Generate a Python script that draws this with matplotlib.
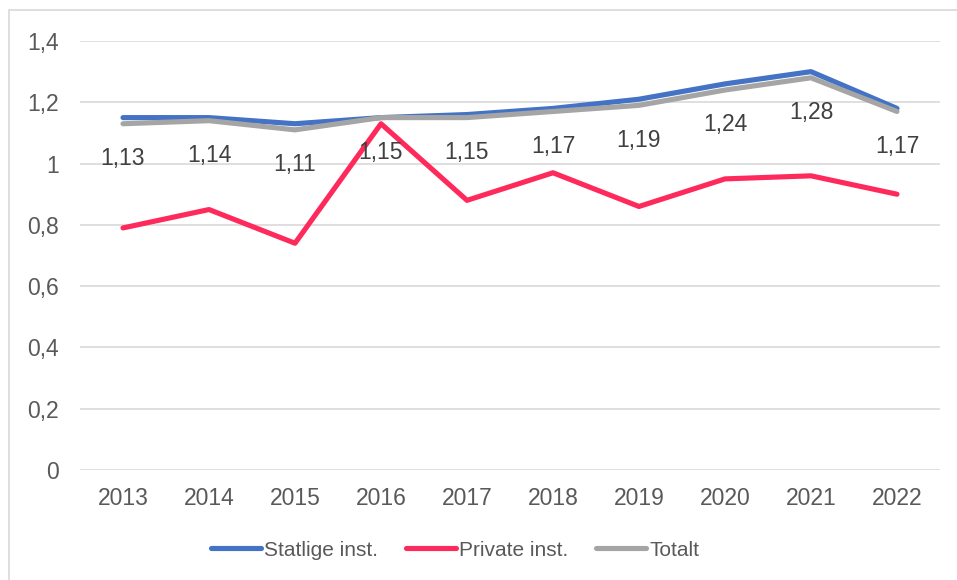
import numpy as np
import matplotlib
matplotlib.use("Agg")
from matplotlib import pyplot as plt
from matplotlib.patches import Rectangle

years = ['2013', '2014', '2015', '2016', '2017', '2018', '2019', '2020', '2021', '2022']
statlige = [1.15, 1.15, 1.13, 1.15, 1.16, 1.18, 1.21, 1.26, 1.30, 1.18]
private = [0.79, 0.85, 0.74, 1.13, 0.88, 0.97, 0.86, 0.95, 0.96, 0.90]
totalt = [1.13, 1.14, 1.11, 1.15, 1.15, 1.17, 1.19, 1.24, 1.28, 1.17]
yticks = [0, 0.2, 0.4, 0.6, 0.8, 1.0, 1.2, 1.4]
ytick_labels = ['0', '0,2', '0,4', '0,6', '0,8', '1', '1,2', '1,4']

plt.rcParams['font.family'] = ['Liberation Sans', 'DejaVu Sans']

fig = plt.figure(figsize=(9.57, 5.8), dpi=100)
ax = fig.add_axes([80 / 957, 1 - 470 / 580, 860 / 957, 429 / 580])

# chart border
fig.patches.append(Rectangle((9 / 957, -0.1), 1.1, 1 - 10 / 580 + 0.1, transform=fig.transFigure,
                             fill=False, edgecolor='#d9d9d9', linewidth=1.2))

x = np.arange(len(years))
ax.plot(x, statlige, color='#4472c4', lw=3.7, solid_capstyle='round', solid_joinstyle='round',
        label='Statlige inst.', zorder=3)
ax.plot(x, private, color='#ff2a5c', lw=3.7, solid_capstyle='round', solid_joinstyle='round',
        label='Private inst.', zorder=3)
ax.plot(x, totalt, color='#a5a5a5', lw=3.7, solid_capstyle='round', solid_joinstyle='round',
        label='Totalt', zorder=3)

for i, v in enumerate(totalt):
    ax.annotate(('%.2f' % v).replace('.', ','), (x[i], v), xytext=(0, -25), textcoords='offset points',
                ha='center', va='center', fontsize=16.5, color='#404040', zorder=5)

ax.set_xlim(-0.5, len(years) - 0.5)
ax.set_ylim(0, 1.4)
ax.set_yticks(yticks)
ax.set_yticklabels(ytick_labels)
ax.set_xticks(x)
ax.set_xticklabels(years)
ax.tick_params(length=0, labelsize=16.5, labelcolor='#595959')
ax.tick_params(axis='y', pad=15)
ax.tick_params(axis='x', pad=12.5)
ax.yaxis.grid(True, color='#d9d9d9', linewidth=1.2)
ax.set_axisbelow(True)
for s in ax.spines.values():
    s.set_visible(False)

fig.legend(loc='center', bbox_to_anchor=(455 / 957, 1 - 550 / 580), ncol=3, frameon=False,
           fontsize=15, labelcolor='#595959', handlelength=2.4, handletextpad=0.15,
           columnspacing=1.35)

fig.savefig('out.png', dpi=100)
